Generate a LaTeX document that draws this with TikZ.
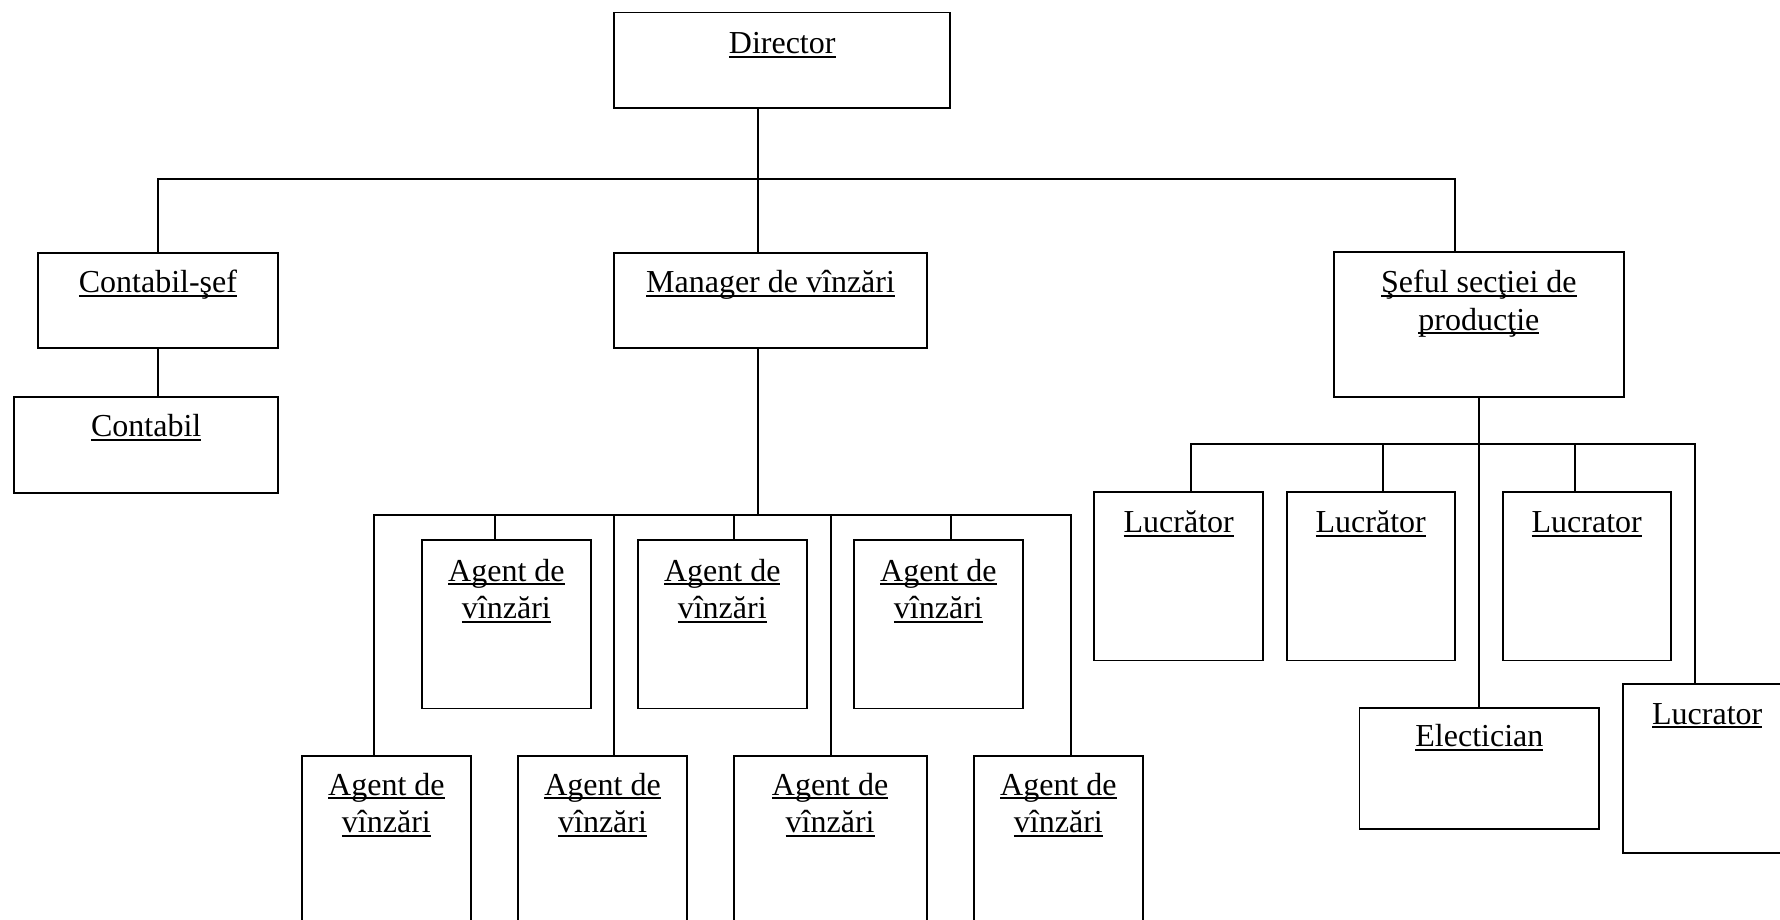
\documentclass[tikz,border=0pt]{standalone}
\usepackage{fontspec}
\setmainfont{Liberation Serif}
\newcommand\ulx[1]{\setbox0\hbox{#1}\rlap{\rule[-4.3pt]{\wd0}{2pt}}\box0}
\tikzset{
  box/.style={draw, line width=1.8pt, rectangle, inner sep=0pt, anchor=north west},
  lbl/.style={inner sep=0pt, anchor=base, font=\fontsize{32}{37}\selectfont},
  conn/.style={line width=1.8pt}
}
\begin{document}
\begin{tikzpicture}[x=1pt,y=-1pt]
\useasboundingbox (0,0) rectangle (1780,920);
\clip (0,0) rectangle (1780,920);
% boxes
\node[box, minimum width=336pt, minimum height=95.6pt] (dir) at (613.3,11.7) {};
\node[box, minimum width=240.6pt, minimum height=95.6pt] (cs) at (36.7,251.7) {};
\node[box, minimum width=264pt, minimum height=96pt] (cb) at (13.3,395.7) {};
\node[box, minimum width=312.7pt, minimum height=95.6pt] (mgr) at (613.3,251.7) {};
\node[box, minimum width=289.4pt, minimum height=144.4pt] (sef) at (1333.3,251.3) {};
% workers
\node[box, minimum width=169pt, minimum height=168.2pt] (w1) at (1093.3,491.3) {};
\node[box, minimum width=168.3pt, minimum height=168.2pt] (w2) at (1285.7,491.3) {};
\node[box, minimum width=168.3pt, minimum height=168.2pt] (w3) at (1501.7,491.3) {};
\node[box, minimum width=239.7pt, minimum height=120.4pt] (el) at (1358.6,707.3) {};
\node[box, minimum width=169.3pt, minimum height=168.4pt] (w4) at (1621.7,683.3) {};
% agents upper
\node[box, minimum width=169pt, minimum height=168.2pt] (u1) at (421,539.3) {};
\node[box, minimum width=168.7pt, minimum height=168.2pt] (u2) at (637,539.3) {};
\node[box, minimum width=168.4pt, minimum height=168.2pt] (u3) at (853.3,539.3) {};
% agents lower
\node[box, minimum width=169pt, minimum height=230pt] (l1) at (301,755) {};
\node[box, minimum width=168.7pt, minimum height=230pt] (l2) at (517.3,755) {};
\node[box, minimum width=193pt, minimum height=230pt] (l3) at (732.7,755) {};
\node[box, minimum width=168.4pt, minimum height=230pt] (l4) at (973.3,755) {};
% texts
\node[lbl] (tdir) at ([yshift=-41.6pt]dir.north) {\ulx{Director}};
\node[lbl] (tcs) at ([yshift=-41pt]cs.north) {\ulx{Contabil-şef}};
\node[lbl] (tcb) at ([yshift=-41pt]cb.north) {\ulx{Contabil}};
\node[lbl] (tmgr) at ([yshift=-41pt]mgr.north) {\ulx{Manager de vînzări}};
\node[lbl] (tsef1) at ([yshift=-41.5pt]sef.north) {\ulx{Şeful secţiei de}};
\node[lbl] (tsef2) at ([yshift=-78.8pt]sef.north) {\ulx{producţie}};
\node[lbl] (tw1) at ([yshift=-41pt]w1.north) {\ulx{Lucrător}};
\node[lbl] (tw2) at ([yshift=-41pt]w2.north) {\ulx{Lucrător}};
\node[lbl] (tw3) at ([yshift=-41pt]w3.north) {\ulx{Lucrator}};
\node[lbl] (tel) at ([yshift=-39.5pt]el.north) {\ulx{Electician}};
\node[lbl] (tw4) at ([yshift=-40.7pt]w4.north) {\ulx{Lucrator}};
\foreach \b in {u1,u2,u3} {
  \node[lbl] (t\b a) at ([yshift=-41.7pt]\b.north) {\ulx{Agent de}};
  \node[lbl] (t\b b) at ([yshift=-79pt]\b.north) {\ulx{vînzări}};
}
\foreach \b in {l1,l2,l3,l4} {
  \node[lbl] (t\b a) at ([yshift=-40pt]\b.north) {\ulx{Agent de}};
  \node[lbl] (t\b b) at ([yshift=-77.3pt]\b.north) {\ulx{vînzări}};
}
% junctions
\coordinate (j1) at (757.7,179.3);
\coordinate (j2) at (757.7,515.3);
\coordinate (j3) at (1478,443.7);
% connectors
\draw[conn] (dir.south -| j1) -- (j1);
\draw[conn] (cs.north) |- (j1);
\draw[conn] (j1) -| ([xshift=-24pt]sef.north);
\draw[conn] (j1) -- (mgr.north -| j1);
\draw[conn] (cs.south) -- (cb.north -| cs.south);
\draw[conn] (mgr.south -| j1) -- (j2);
\draw[conn] ([xshift=-12.2pt]l1.north) |- (j2);
\draw[conn] ([xshift=11.6pt]l2.north) |- (j2);
\draw[conn] ([xshift=0.8pt]l3.north) |- (j2);
\draw[conn] ([xshift=12.5pt]l4.north) |- (j2);
\draw[conn] ([xshift=-11.5pt]u1.north) |- (j2);
\draw[conn] ([xshift=11.9pt]u2.north) |- (j2);
\draw[conn] ([xshift=12.5pt]u3.north) |- (j2);
\draw[conn] (sef.south) -- (el.north -| sef.south);
\draw[conn] ([xshift=12.2pt]w1.north) |- (j3);
\draw[conn] ([xshift=12.1pt]w2.north) |- (j3);
\draw[conn] ([xshift=-11.9pt]w3.north) |- (j3);
\draw[conn] ([xshift=-12.3pt]w4.north) |- (j3);
\end{tikzpicture}
\end{document}
